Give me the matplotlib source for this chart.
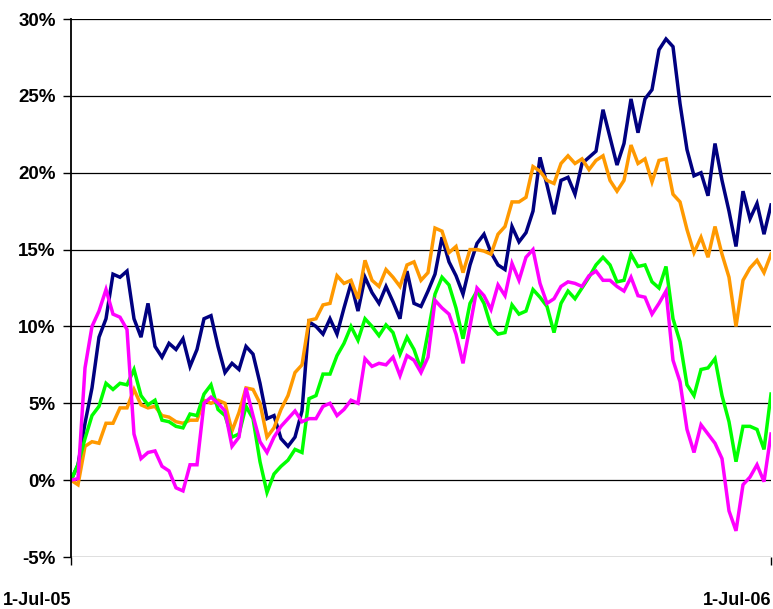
import numpy as np
import pandas as pd
import matplotlib
matplotlib.use("Agg")
import matplotlib.pyplot as plt
from matplotlib.ticker import FixedLocator, FuncFormatter

# cumulative return (%), roughly every 3.7 days
navy = [0.0, 1.0, 3.7, 6.0, 9.3, 10.5, 13.4, 13.2, 13.6, 10.5,
        9.3, 11.5, 8.7, 8.0, 8.9, 8.5, 9.2, 7.4, 8.5, 10.5,
        10.7, 8.7, 7.0, 7.6, 7.2, 8.7, 8.2, 6.3, 4.0, 4.2,
        2.7, 2.2, 2.8, 4.5, 10.3, 10.0, 9.5, 10.5, 9.5, 11.2,
        12.8, 11.0, 13.2, 12.2, 11.5, 12.6, 11.6, 10.5, 13.6, 11.5,
        11.3, 12.3, 13.4, 15.8, 14.2, 13.3, 12.1, 14.0, 15.4, 16.0,
        14.8, 14.0, 13.7, 16.5, 15.5, 16.1, 17.5, 21.0, 19.2, 17.3,
        19.5, 19.7, 18.6, 20.6, 21.0, 21.4, 24.1, 22.3, 20.5, 21.9,
        24.8, 22.6, 24.8, 25.4, 28.0, 28.7, 28.2, 24.5, 21.5, 19.8,
        20.0, 18.5, 21.9, 19.5, 17.5, 15.2, 18.8, 17.0, 18.0, 16.0,
        17.9]
orange = [0.0, -0.3, 2.2, 2.5, 2.4, 3.7, 3.7, 4.7, 4.7, 5.9,
          4.9, 4.7, 4.8, 4.2, 4.1, 3.8, 3.7, 3.9, 3.9, 5.2,
          5.0, 5.2, 5.0, 3.2, 4.4, 6.0, 5.9, 5.0, 2.8, 3.4,
          4.6, 5.5, 7.0, 7.5, 10.4, 10.5, 11.4, 11.5, 13.3, 12.8,
          13.0, 11.8, 14.3, 13.0, 12.6, 13.7, 13.2, 12.6, 14.0, 14.2,
          13.0, 13.5, 16.4, 16.2, 14.8, 15.2, 13.5, 15.0, 15.0, 14.9,
          14.7, 16.0, 16.5, 18.1, 18.1, 18.4, 20.4, 20.1, 19.5, 19.3,
          20.6, 21.1, 20.6, 20.9, 20.2, 20.8, 21.1, 19.5, 18.8, 19.5,
          21.8, 20.6, 20.9, 19.4, 20.8, 20.9, 18.6, 18.1, 16.3, 14.8,
          15.8, 14.5, 16.5, 14.7, 13.2, 10.0, 13.0, 13.8, 14.3, 13.5,
          14.7]
green = [0.0, 1.0, 2.7, 4.2, 4.8, 6.3, 5.9, 6.3, 6.2, 7.2,
         5.5, 4.9, 5.2, 3.9, 3.8, 3.5, 3.4, 4.3, 4.2, 5.6,
         6.2, 4.6, 4.2, 2.8, 3.0, 4.8, 4.0, 1.2, -0.8, 0.4,
         0.9, 1.3, 2.0, 1.8, 5.3, 5.5, 6.9, 6.9, 8.1, 8.9,
         10.0, 9.1, 10.5, 10.0, 9.4, 10.1, 9.6, 8.2, 9.3, 8.5,
         7.2, 9.6, 12.1, 13.2, 12.7, 11.2, 9.2, 11.5, 12.3, 11.5,
         10.0, 9.5, 9.6, 11.4, 10.8, 11.0, 12.4, 11.9, 11.3, 9.6,
         11.5, 12.3, 11.8, 12.5, 13.2, 14.0, 14.5, 14.0, 12.9, 13.0,
         14.7, 13.9, 14.0, 12.9, 12.5, 13.9, 10.5, 9.0, 6.2, 5.5,
         7.2, 7.3, 7.9, 5.5, 3.8, 1.2, 3.5, 3.5, 3.3, 2.0,
         5.6]
magenta = [0.0, 0.1, 7.3, 10.0, 11.0, 12.4, 10.8, 10.6, 9.8, 3.0,
           1.4, 1.8, 1.9, 0.9, 0.6, -0.5, -0.7, 1.0, 1.0, 5.0,
           5.4, 5.0, 4.5, 2.2, 2.8, 6.0, 4.2, 2.5, 1.8, 2.8,
           3.5, 4.0, 4.5, 3.8, 4.0, 4.0, 4.8, 5.0, 4.2, 4.6,
           5.2, 5.0, 7.9, 7.4, 7.6, 7.5, 8.0, 6.8, 8.1, 7.8,
           7.0, 8.0, 11.7, 11.2, 10.8, 9.5, 7.6, 10.0, 12.5, 12.0,
           11.1, 12.7, 12.0, 14.1, 13.0, 14.5, 15.0, 12.8, 11.5, 11.8,
           12.6, 12.9, 12.8, 12.6, 13.3, 13.6, 13.0, 13.0, 12.6, 12.3,
           13.2, 12.0, 11.9, 10.8, 11.5, 12.3, 7.8, 6.4, 3.3, 1.8,
           3.6, 3.0, 2.4, 1.4, -2.0, -3.3, -0.3, 0.2, 1.0, -0.1,
           3.0]

series = [(navy, "#000080"), (orange, "#FF9900"), (green, "#00FF00"), (magenta, "#FF00FF")]
y_ticks = [-5, 0, 5, 10, 15, 20, 25, 30]
x_labels = ["1-Jul-05", "1-Jul-06"]

dates = pd.date_range("2005-07-01", "2006-07-01", periods=len(navy))

plt.rcParams["font.family"] = ["Liberation Sans Narrow", "Liberation Sans", "DejaVu Sans"]

fig = plt.figure(figsize=(7.73, 6.09), dpi=100)
ax = fig.add_axes([71 / 773, 1 - 557 / 609, 700 / 773, 538 / 609])

for vals, col in series:
    ax.plot(dates, vals, color=col, lw=2.5, solid_joinstyle="miter")

ax.set_ylim(-5, 30)
ax.set_xlim(dates[0], dates[-1])
ax.yaxis.set_major_locator(FixedLocator(y_ticks))
ax.yaxis.set_major_formatter(FuncFormatter(lambda v, p: f"{v:.0f}%"))
ax.grid(axis="y", color="black", lw=0.9)
ax.set_axisbelow(True)

ax.set_xticks([dates[0], dates[-1]])
ax.set_xticklabels(x_labels)
for lbl in ax.get_xticklabels():
    lbl.set_horizontalalignment("right")

for s in ["top", "right", "bottom"]:
    ax.spines[s].set_visible(False)
ax.spines["left"].set_linewidth(1.3)

ax.tick_params(axis="y", length=6, width=1, pad=5, labelsize=13.5)
ax.tick_params(axis="x", length=6, width=1, pad=19, labelsize=13)
for lbl in ax.get_yticklabels() + ax.get_xticklabels():
    lbl.set_fontweight("bold")

fig.savefig("out.png", dpi=100)
